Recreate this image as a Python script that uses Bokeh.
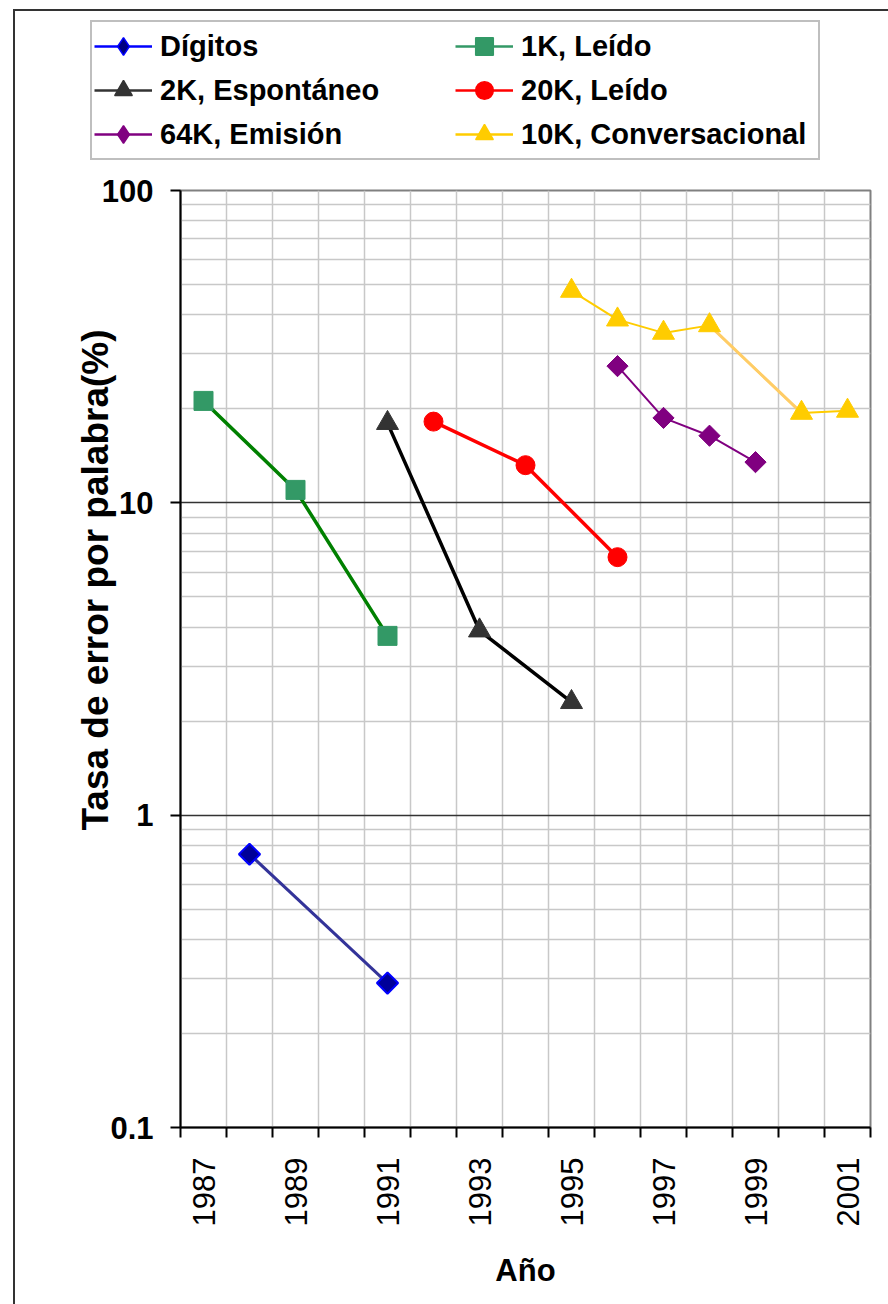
import math
from bokeh.plotting import figure
from bokeh.layouts import column
from bokeh.models import (FixedTicker, Legend, LegendItem, Title,
                          CustomJSTickFormatter, Range1d)
from bokeh.embed import file_html
from bokeh.resources import INLINE

# ---------------- data ----------------
years_digitos = [1988, 1991]
wer_digitos = [0.75, 0.29]

years_1k = [1987, 1989, 1991]
wer_1k = [21.2, 11.0, 3.75]

years_2k = [1991, 1993, 1995]
wer_2k = [18.0, 3.9, 2.3]

years_20k = [1992, 1994, 1996]
wer_20k = [18.2, 13.2, 6.7]

years_64k = [1996, 1997, 1998, 1999]
wer_64k = [27.4, 18.7, 16.4, 13.5]

years_10k = [1995, 1996, 1997, 1998, 2000, 2001]
wer_10k = [47.7, 38.6, 35.0, 37.0, 19.4, 19.7]

first_year, last_year = 1987, 2001
year_labels = list(range(1987, 2002, 2))
y_tick_values = [0.1, 1, 10, 100]

FONT = "Liberation Sans"
DIAMOND = math.pi / 4

# ================= legend strip (its own figure, so nothing is clipped) =================
top = figure(width=873, height=160, x_range=Range1d(0, 1), y_range=Range1d(0, 1),
             x_axis_location=None, y_axis_location=None,
             output_backend="svg", toolbar_location=None,
             min_border_left=0, min_border_right=0, min_border_top=0, min_border_bottom=0)
top.frame_align = False
top.xgrid.visible = False
top.ygrid.visible = False
top.outline_line_color = None
top.background_fill_color = "white"
top.border_fill_color = "white"

def legend_renderers(xs, ys, color, marker, fill):
    l = top.line(xs, ys, line_color=color, line_width=2.5, visible=False)
    s = top.scatter(xs, ys, marker=marker, size=18,
                    fill_color=fill, line_color=color, line_width=1.5, visible=False)
    return [l, s]

items = [
    LegendItem(label="Dígitos", renderers=legend_renderers(years_digitos, wer_digitos, "#0000ff", "diamond", "#000080")),
    LegendItem(label="1K, Leído", renderers=legend_renderers(years_1k, wer_1k, "#339966", "square", "#339966")),
    LegendItem(label="2K, Espontáneo", renderers=legend_renderers(years_2k, wer_2k, "#333333", "triangle", "#333333")),
    LegendItem(label="20K, Leído", renderers=legend_renderers(years_20k, wer_20k, "#ff0000", "circle", "#ff0000")),
    LegendItem(label="64K, Emisión", renderers=legend_renderers(years_64k, wer_64k, "#800080", "diamond", "#800080")),
    LegendItem(label="10K, Conversacional", renderers=legend_renderers(years_10k, wer_10k, "#ffcc00", "triangle", "#ffcc00")),
]

legend = Legend(items=items, location=(75, 11), orientation="horizontal", ncols=2,
                label_text_font=FONT, label_text_font_size="29px",
                label_text_font_style="bold", label_text_color="black",
                glyph_width=58, glyph_height=44, label_standoff=8,
                label_width=295, spacing=0, padding=2, margin=0,
                border_line_color="#808080", border_line_width=2,
                background_fill_color="white", background_fill_alpha=1.0)
top.add_layout(legend)

# ================= main chart =================
p = figure(width=873, height=1133,
           x_range=Range1d(first_year - 0.5, last_year + 0.5),
           y_range=Range1d(0.1, 100), y_axis_type="log",
           output_backend="svg", toolbar_location=None,
           min_border_left=165, min_border_right=18,
           min_border_top=19, min_border_bottom=177)
p.frame_align = False
p.background_fill_color = "white"
p.border_fill_color = "white"
p.outline_line_color = "#808080"
p.outline_line_width = 2

# x axis
bounds = [y - 0.5 for y in range(first_year, last_year + 2)]
p.xaxis.ticker = FixedTicker(ticks=year_labels, minor_ticks=bounds)
p.xaxis.major_tick_line_color = None
p.xaxis.major_tick_out = 0
p.xaxis.major_tick_in = 0
p.xaxis.minor_tick_out = 10
p.xaxis.minor_tick_in = 0
p.xaxis.minor_tick_line_color = "black"
p.xaxis.minor_tick_line_width = 2
p.xaxis.axis_line_color = "black"
p.xaxis.axis_line_width = 2
p.xaxis.major_label_orientation = math.pi / 2
p.xaxis.major_label_text_font = FONT
p.xaxis.major_label_text_font_size = "31px"
p.xaxis.major_label_text_color = "black"
p.xaxis.major_label_standoff = 20
p.xaxis.axis_label = "Año"
p.xaxis.axis_label_text_font = FONT
p.xaxis.axis_label_text_font_size = "31px"
p.xaxis.axis_label_text_font_style = "bold"
p.xaxis.axis_label_text_color = "black"
p.xaxis.axis_label_standoff = 24

# y axis
p.yaxis.ticker = FixedTicker(ticks=y_tick_values, minor_ticks=[])
p.yaxis.formatter = CustomJSTickFormatter(code="return tick.toString();")
p.yaxis.major_tick_out = 10
p.yaxis.major_tick_in = 0
p.yaxis.major_tick_line_color = "black"
p.yaxis.major_tick_line_width = 2
p.yaxis.minor_tick_line_color = None
p.yaxis.axis_line_color = "black"
p.yaxis.axis_line_width = 2
p.yaxis.major_label_text_font = FONT
p.yaxis.major_label_text_font_size = "31px"
p.yaxis.major_label_text_font_style = "bold"
p.yaxis.major_label_text_color = "black"
p.yaxis.major_label_standoff = 17

# grids
p.xgrid.ticker = FixedTicker(ticks=[y + 0.5 for y in range(first_year, last_year)])
p.xgrid.grid_line_color = "#c8c8c8"
p.xgrid.grid_line_width = 1.5

minor_y = [m * d for d in (0.1, 1, 10) for m in range(2, 10)]
p.ygrid.ticker = FixedTicker(ticks=[1, 10], minor_ticks=minor_y)
p.ygrid.grid_line_color = "#333333"
p.ygrid.grid_line_width = 1.5
p.ygrid.minor_grid_line_color = "#c8c8c8"
p.ygrid.minor_grid_line_width = 1.5

# series
p.line(years_digitos, wer_digitos, line_color="#333399", line_width=3)
p.scatter(years_digitos, wer_digitos, marker="square", angle=DIAMOND, size=15,
          fill_color="#000099", line_color="#0000ff", line_width=2)

p.line(years_1k, wer_1k, line_color="#008000", line_width=3.5)
p.scatter(years_1k, wer_1k, marker="square", size=19,
          fill_color="#339966", line_color="#339966", line_width=1)

p.line(years_2k, wer_2k, line_color="black", line_width=3.5)
p.scatter(years_2k, wer_2k, marker="triangle", size=22,
          fill_color="#333333", line_color="#333333", line_width=1)

p.line(years_20k, wer_20k, line_color="#ff0000", line_width=3.5)
p.scatter(years_20k, wer_20k, marker="circle", size=19,
          fill_color="#ff0000", line_color="#ff0000", line_width=1)

p.line(years_64k, wer_64k, line_color="#800080", line_width=2)
p.scatter(years_64k, wer_64k, marker="square", angle=DIAMOND, size=15,
          fill_color="#800080", line_color="#800080", line_width=1)

p.line(years_10k, wer_10k, line_color="#ffcc00", line_width=2)
p.line(years_10k[3:5], wer_10k[3:5], line_color="#ffcc66", line_width=3)
p.scatter(years_10k, wer_10k, marker="triangle", size=22,
          fill_color="#ffcc00", line_color="#ffcc00", line_width=1)

# y axis title (left side panel, shifted up like the original)
ytitle = Title(text="Tasa de error por palabra(%)", align="left",
               vertical_align="bottom", offset=297, standoff=-34,
               text_font=FONT, text_font_size="37px", text_font_style="bold",
               text_color="black")
p.add_layout(ytitle, "left")

layout = column(top, p, spacing=0)
layout.margin = (9, 0, 0, 13)
layout.styles = {"border-left": "2px solid #333333", "border-top": "2px solid #333333"}

open("out.html", "w").write(file_html(layout, INLINE))
